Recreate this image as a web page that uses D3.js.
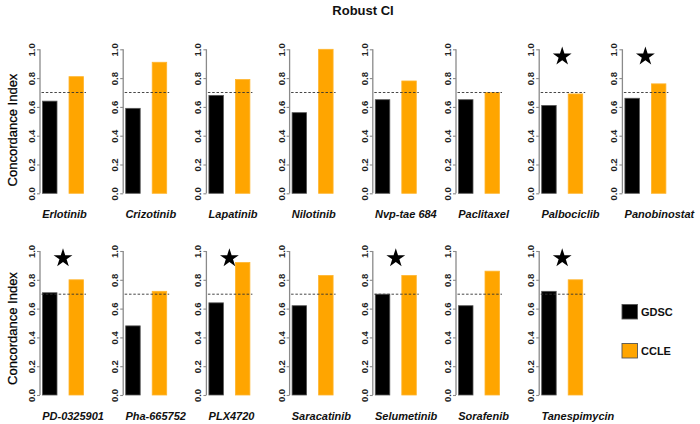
<!DOCTYPE html>
<html>
<head>
<meta charset="utf-8">
<script src="https://cdn.jsdelivr.net/npm/d3@7"></script>
<style>
  html, body { margin: 0; padding: 0; background: #fff; }
  svg { display: block; font-family: "Liberation Sans", Arial, sans-serif; }
</style>
</head>
<body>
<svg id="chart" width="700" height="424"></svg>
<script>
// ---- data ----
const drugsTop = ["Erlotinib", "Crizotinib", "Lapatinib", "Nilotinib", "Nvp-tae 684", "Paclitaxel", "Palbociclib", "Panobinostat"];
const gdscTop  = [0.64, 0.59, 0.68, 0.56, 0.65, 0.65, 0.61, 0.66];
const ccleTop  = [0.81, 0.91, 0.79, 1.00, 0.78, 0.70, 0.69, 0.76];
const starTop  = [false, false, false, false, false, false, true, true];

const drugsBottom = ["PD-0325901", "Pha-665752", "PLX4720", "Saracatinib", "Selumetinib", "Sorafenib", "Tanespimycin"];
const gdscBottom  = [0.71, 0.48, 0.64, 0.62, 0.70, 0.62, 0.72];
const ccleBottom  = [0.80, 0.72, 0.92, 0.83, 0.83, 0.86, 0.80];
const starBottom  = [true, false, true, false, true, false, true];

const series = ["GDSC", "CCLE"];
const seriesColors = ["#000000", "#FFA500"];
const yTicks = [0, 0.2, 0.4, 0.6, 0.8, 1.0];
const threshold = 0.7;
const starValue = 0.95;
const title = "Robust CI";
const yTitle = "Concordance Index";

// ---- layout ----
const svg = d3.select("#chart");
const FONT = '"Liberation Sans", Arial, sans-serif';

svg.append("text")
  .attr("x", 363).attr("y", 15)
  .attr("text-anchor", "middle")
  .attr("font-size", 13).attr("font-weight", "bold")
  .attr("fill", "#111")
  .text(title);

const panelX = d3.scaleLinear().domain([0, 7]).range([40, 40 + 7 * 83.2]);
const inner = d3.scaleBand().domain(series).range([2.5, 43.5]).paddingInner(0.453);
const color = d3.scaleOrdinal().domain(series).range(seriesColors);

const rows = [
  { drugs: drugsTop, vals: [gdscTop, ccleTop], stars: starTop, y0: 193.3, y1: 49.3, titleY: 130 },
  { drugs: drugsBottom, vals: [gdscBottom, ccleBottom], stars: starBottom, y0: 395, y1: 251, titleY: 328.5 }
];

const starPath = d3.symbol().type(d3.symbolStar).size(110)();

rows.forEach(row => {
  const y = d3.scaleLinear().domain([0, 1]).range([row.y0, row.y1]);

  // y-axis title
  svg.append("text")
    .attr("transform", `translate(16.5,${row.titleY}) rotate(-90)`)
    .attr("text-anchor", "middle")
    .attr("font-size", 13)
    .attr("fill", "#000")
    .attr("stroke", "#000").attr("stroke-width", 0.25)
    .text(yTitle);

  row.drugs.forEach((drug, i) => {
    const ax = panelX(i);
    const g = svg.append("g").attr("transform", `translate(${ax},0)`);

    // axis
    const axis = d3.axisLeft(y).tickValues(yTicks).tickSize(3).tickFormat(d3.format(".1f"));
    const ag = g.append("g").call(axis);
    ag.select(".domain").attr("stroke", "#8a8a8a").attr("stroke-width", 1.3)
      .attr("d", `M0,${y(0)}V${y(1)}`);
    ag.selectAll(".tick line").attr("stroke", "#8a8a8a").attr("stroke-width", 1.1);
    ag.selectAll(".tick text")
      .attr("font-family", FONT)
      .attr("font-size", 9.5).attr("font-weight", "bold").attr("fill", "#222")
      .attr("x", null).attr("dy", null)
      .attr("text-anchor", "middle")
      .attr("transform", "translate(-5,0) rotate(-90)")
      .attr("y", 0);

    // bars
    series.forEach((s, k) => {
      const v = row.vals[k][i];
      g.append("rect")
        .attr("x", inner(s))
        .attr("y", y(v))
        .attr("width", inner.bandwidth())
        .attr("height", y(0) - y(v))
        .attr("fill", color(s))
        .attr("stroke", k === 0 ? "#555" : "#FFB52E")
        .attr("stroke-width", 0.8);
    });

    // threshold
    g.append("line")
      .attr("x1", 1.5).attr("x2", 46)
      .attr("y1", y(threshold)).attr("y2", y(threshold))
      .attr("stroke", "#333").attr("stroke-width", 0.9)
      .attr("stroke-dasharray", "2.5,1.8");

    // star
    if (row.stars[i]) {
      const cx = (inner("GDSC") + inner("CCLE") + inner.bandwidth()) / 2;
      g.append("path")
        .attr("d", starPath)
        .attr("transform", `translate(${cx},${y(starValue)})`)
        .attr("fill", "#000");
    }

    // drug label
    g.append("text")
      .attr("x", 2.2).attr("y", row.y0 + 24.5)
      .attr("font-size", 11).attr("font-weight", "bold").attr("font-style", "italic")
      .attr("fill", "#111")
      .text(drug);
  });
});

// legend
const legend = svg.append("g");
const legendY = [304.5, 343.5];
series.forEach((s, k) => {
  legend.append("rect")
    .attr("x", 622).attr("y", legendY[k])
    .attr("width", 15.5).attr("height", 14.5)
    .attr("fill", color(s))
    .attr("stroke", "#555").attr("stroke-width", 0.9);
  legend.append("text")
    .attr("x", 641).attr("y", legendY[k] + 11.5)
    .attr("font-size", 11).attr("font-weight", "bold").attr("fill", "#111")
    .text(s);
});
</script>
</body>
</html>
